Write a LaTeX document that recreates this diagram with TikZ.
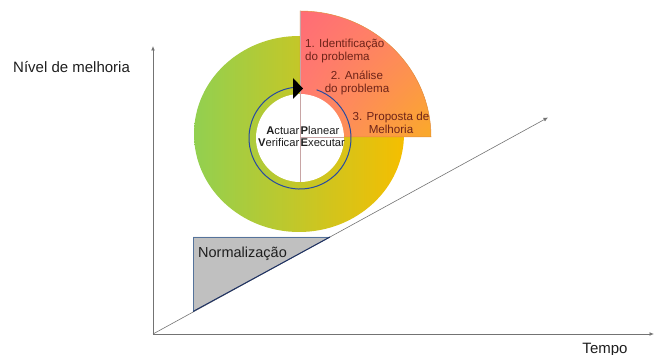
\documentclass[tikz,border=0pt]{standalone}
\usepackage{fontspec}
\setmainfont{Liberation Sans}
\usetikzlibrary{arrows.meta,shadings}
\definecolor{dgreen}{RGB}{146,208,80}
\definecolor{dyellow}{RGB}{245,190,0}
\definecolor{spinkA}{RGB}{255,108,118}
\definecolor{spinkB}{RGB}{255,135,100}
\definecolor{spinkC}{RGB}{255,130,110}
\definecolor{sorange}{RGB}{250,170,40}
\definecolor{sedge}{RGB}{225,140,60}
\definecolor{sline}{RGB}{200,165,165}
\definecolor{stext}{RGB}{110,35,25}
\definecolor{arcblue}{RGB}{40,75,160}
\definecolor{axisgray}{RGB}{115,115,115}
\definecolor{normfill}{RGB}{192,192,192}
\definecolor{normedge}{RGB}{85,115,155}
\definecolor{normhyp}{RGB}{30,50,100}
\definecolor{txtdark}{RGB}{30,30,30}
\begin{document}
\begin{tikzpicture}[x=1pt,y=-1pt,
  axis/.style={draw=axisgray, line width=0.9pt, -{Latex[length=4.5pt,width=4pt]}},
  trend/.style={draw=axisgray, line width=0.6pt, -{Latex[length=4.5pt,width=4pt]}},
  lbl/.style={inner sep=0pt, font=\fontsize{15}{18}\selectfont, text=txtdark},
  secttext/.style={inner sep=0pt, font=\fontsize{11.6}{13}\selectfont, text=stext},
  holetext/.style={inner sep=0pt, font=\fontsize{11.2}{12}\selectfont, text=txtdark},
  normtext/.style={inner sep=0pt, font=\fontsize{14.5}{17}\selectfont, text=txtdark},
  sectline/.style={draw=sline, line width=0.8pt}]
\useasboundingbox (0,0) rectangle (654,355);

% coordinates
\coordinate (O) at (153,334);
\coordinate (ytop) at (153,46);
\coordinate (xend) at (654,334);
\coordinate (dend) at (548,117.5);
\coordinate (nA) at (193,237);
\coordinate (nB) at (193,311.5);
\coordinate (nC) at (330,237);
\coordinate (dc) at (299,134);
\coordinate (sc) at (300,137);
\coordinate (hc) at (300,138);

% donut
\shade[left color=dgreen, right color=dyellow] (dc) ellipse [x radius=105pt, y radius=98pt];

% sector
\shadedraw[draw=sedge, line width=0.5pt, upper left=spinkA, upper right=spinkB, lower left=spinkC, lower right=sorange]
  (sc) -- (431,137) arc[start angle=0, end angle=90, x radius=131pt, y radius=126pt] -- cycle;

% hole
\fill[white] (hc) circle[radius=44pt];

% dividing lines
\draw[sectline] (300,11) -- (300,182);
\draw[sectline] (sc) -- (344,137);

% blue cycle arrow
\draw[draw=arcblue, line width=1pt] (316.6,89.8) arc[start angle=71, end angle=-264, radius=51pt];
\fill[black] (293,78) -- (303,88.5) -- (293,99) -- cycle;

% hole texts
\node[holetext, anchor=base east] (act) at (299.5,135) {\textbf{A}ctuar};
\node[holetext, anchor=base west] (pla) at (300.5,135) {\textbf{P}lanear};
\node[holetext, anchor=base east] (ver) at (299.5,147) {\textbf{V}erificar};
\node[holetext, anchor=base west] (exe) at (300.5,147) {\textbf{E}xecutar};

% sector texts
\node[secttext, anchor=base west] (s1a) at (305,48) {1. Identificação};
\node[secttext, anchor=base west] (s1b) at (305,61) {do problema};
\node[secttext, anchor=base] (s2a) at (357,80) {2. Análise};
\node[secttext, anchor=base] (s2b) at (357,93) {do problema};
\node[secttext, anchor=base] (s3a) at (391,121) {3. Proposta de};
\node[secttext, anchor=base] (s3b) at (391,134) {Melhoria};

% normalization triangle
\fill[normfill] (nA) -- (nB) -- (nC) -- cycle;
\draw[draw=normedge, line width=0.9pt] (nC) -- (nA) -- (nB);
\node[normtext, anchor=base west] (norm) at (198,258) {Normalização};

% axes and trend
\draw[axis] (O) -- (ytop);
\draw[axis] (O) -- (xend);
\draw[trend] (O) -- (dend);
\draw[draw=normhyp, line width=1pt] (nB) -- (nC);

% axis labels
\node[lbl, anchor=base west] (ylbl) at (13,73) {Nível de melhoria};
\node[lbl, anchor=base] (xlbl) at (605,353.5) {Tempo};
\end{tikzpicture}
\end{document}
